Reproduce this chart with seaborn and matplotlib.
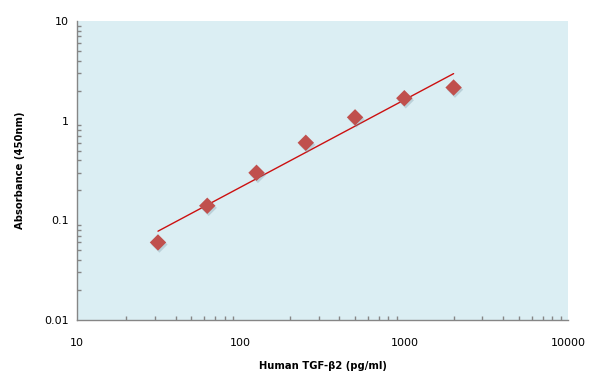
import numpy as np
import pandas as pd
import matplotlib
matplotlib.use("Agg")
import matplotlib.pyplot as plt
import matplotlib.ticker as mticker
import matplotlib.patheffects as pe
import seaborn as sns

conc = [31.25, 62.5, 125, 250, 500, 1000, 2000]
absorbance = [0.060, 0.140, 0.30, 0.60, 1.08, 1.68, 2.15]
x_ticks = [10, 100, 1000, 10000]
x_tick_labels = ["10", "100", "1000", "10000"]
y_ticks = [0.01, 0.1, 1, 10]
y_tick_labels = ["0.01", "0.1", "1", "10"]

sns.set_style("white")
plt.rcParams['font.family'] = ['DejaVu Sans']

df = pd.DataFrame({"conc": conc, "abs": absorbance})

# power trend line fitted in log-log space
coef = np.polyfit(np.log10(df["conc"]), np.log10(df["abs"]), 1)
trend = pd.DataFrame({"conc": df["conc"]})
trend["abs"] = 10 ** np.polyval(coef, np.log10(trend["conc"]))

fig = plt.figure(figsize=(5.96, 3.90), dpi=100)
ax = fig.add_axes([77/596, 1-320/390, (568-77)/596, (320-21)/390])
ax.set_facecolor("#DBEEF3")

ax.set_xscale("log")
ax.set_yscale("log")

sns.lineplot(data=trend, x="conc", y="abs", ax=ax, color="#CC1010", linewidth=1.0, zorder=2)
sns.scatterplot(data=df, x="conc", y="abs", ax=ax, marker="D", s=70, color="#C0504D",
                edgecolor="none", zorder=3,
                path_effects=[pe.SimplePatchShadow(offset=(1.0, -1.5), shadow_rgbFace="#6f8f9f", alpha=0.3), pe.Normal()])

ax.set_xlim(10, 10000)
ax.set_ylim(0.01, 10)

ax.set_xticks(x_ticks)
ax.set_xticklabels(x_tick_labels)
ax.set_yticks(y_ticks)
ax.set_yticklabels(y_tick_labels)
ax.xaxis.set_minor_locator(mticker.LogLocator(base=10, subs=np.arange(2, 10), numticks=50))
ax.yaxis.set_minor_locator(mticker.LogLocator(base=10, subs=np.arange(2, 10), numticks=50))
ax.xaxis.set_minor_formatter(mticker.NullFormatter())
ax.yaxis.set_minor_formatter(mticker.NullFormatter())

for s in ["top", "right"]:
    ax.spines[s].set_visible(False)
for s in ["left", "bottom"]:
    ax.spines[s].set_color("#868686")
    ax.spines[s].set_linewidth(1.0)

ax.tick_params(axis="both", which="major", direction="in", length=4, width=1,
               color="#868686", labelsize=8, labelcolor="black")
ax.tick_params(axis="both", which="minor", direction="in", length=3, width=1,
               color="#868686", bottom=True, left=True)
ax.tick_params(axis="x", which="major", pad=13)
ax.tick_params(axis="y", which="major", pad=6)

ax.set_xlabel("Human TGF-β2 (pg/ml)", fontsize=7.2, fontweight="bold", labelpad=9, color="black")
ax.set_ylabel("Absorbance (450nm)", fontsize=7.2, fontweight="bold", labelpad=14, color="black")

fig.savefig("out.png", dpi=100, facecolor="white")
